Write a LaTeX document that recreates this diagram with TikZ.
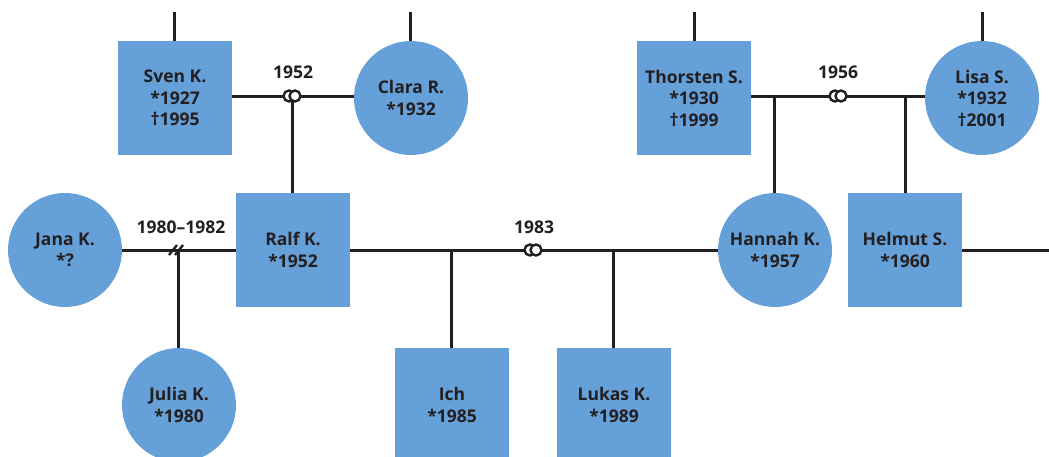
\documentclass[tikz,border=0pt]{standalone}
\usepackage{fontspec}
\setmainfont{Open Sans}
\definecolor{pblue}{HTML}{65A0D9}
\definecolor{ink}{HTML}{231F20}
\tikzset{
  person/.style={fill=pblue, draw=none, inner sep=0pt, align=center, text=ink,
    font=\fontsize{17.5}{21.5}\selectfont\bfseries},
  male/.style={person, rectangle, minimum width=114pt, minimum height=114pt},
  female/.style={person, circle, minimum size=114pt},
  rel/.style={draw=ink, line width=3pt},
  ring/.style={circle, draw=ink, fill=white, line width=2.4pt, inner sep=0pt, minimum size=11pt},
  yearlabel/.style={text=ink, font=\fontsize{17.5}{20}\selectfont\bfseries, inner sep=0pt}
}
\begin{document}
\begin{tikzpicture}[x=1pt,y=-1pt]
\useasboundingbox (0,0) rectangle (1049,456);
\clip (0,0) rectangle (1049,456);
% persons
\node[male] (sven) at (175,98) {Sven K.\\*1927\\†1995};
\node[female] (clara) at (411,98) {Clara R.\\*1932};
\node[male] (thorsten) at (694,98) {Thorsten S.\\*1930\\†1999};
\node[female] (lisa) at (982,98) {Lisa S.\\*1932\\†2001};
\node[female] (jana) at (65,250) {Jana K.\\*?};
\node[male] (ralf) at (293,250) {Ralf K.\\*1952};
\node[female] (hannah) at (775,250) {Hannah K.\\*1957};
\node[male] (helmut) at (905,250) {Helmut S.\\*1960};
\node[female] (julia) at (179,405) {Julia K.\\*1980};
\node[male] (ich) at (452,405) {Ich\\*1985};
\node[male] (lukas) at (614,405) {Lukas K.\\*1989};
% helper coordinates
\coordinate (s1) at (174,12);
\coordinate (s2) at (410,12);
\coordinate (s3) at (694,12);
\coordinate (s4) at (982,12);
\coordinate (m1) at (292,96);
\coordinate (m2) at (838,96);
\coordinate (m3) at (533,250);
\coordinate (d1) at (178,250);
\coordinate (c1) at (451,250);
\coordinate (c2) at (613,250);
\coordinate (c3) at (774,96);
\coordinate (c4) at (905,96);
\coordinate (e1) at (1049,250);
% connectors
\draw[rel] (s1) -- (sven.north -| s1);
\draw[rel] (s2) -- (clara.north -| s2);
\draw[rel] (s3) -- (thorsten.north);
\draw[rel] (s4) -- (lisa.north);
\draw[rel] (sven.east |- m1) -- (clara.west |- m1);
\draw[rel] (m1) -- (ralf.north -| m1);
\draw[rel] (thorsten.east |- m2) -- (lisa.west |- m2);
\draw[rel] (c3) -- (hannah.north -| c3);
\draw[rel] (c4) -- (helmut.north);
\draw[rel] (jana.east) -- (ralf.west);
\draw[rel] (d1) -- (julia.north -| d1);
\draw[rel] (ralf.east) -- (hannah.west);
\draw[rel] (c1) -- (ich.north -| c1);
\draw[rel] (c2) -- (lukas.north -| c2);
\draw[rel] (helmut.east) -- (e1);
% marriage rings
\foreach \m in {m1,m2,m3}{
  \node[ring] at ([xshift=-3pt]\m) {};
  \node[ring] at ([xshift=3pt]\m) {};
}
% divorce marks
\draw[draw=ink, line width=2.4pt] ([shift={(-9,5)}]d1) -- ([shift={(-1,-5)}]d1);
\draw[draw=ink, line width=2.4pt] ([shift={(-3,5)}]d1) -- ([shift={(5,-5)}]d1);
% year labels
\node[yearlabel] (y1) at (293,72) {1952};
\node[yearlabel] (y2) at (838,72) {1956};
\node[yearlabel] (y3) at (534,227) {1983};
\node[yearlabel] (y4) at (181,227) {1980–1982};
\end{tikzpicture}
\end{document}
